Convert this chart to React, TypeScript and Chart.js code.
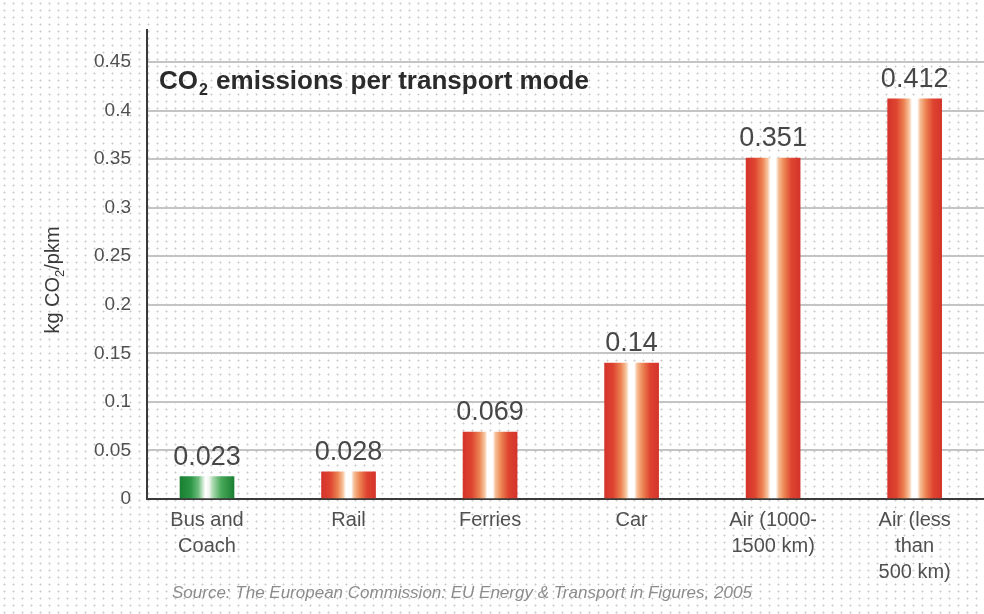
import React, { useEffect, useRef } from "react";
import { Chart, registerables } from "chart.js";

Chart.register(...registerables);

const categories: string[][] = [
  ["Bus and", "Coach"],
  ["Rail"],
  ["Ferries"],
  ["Car"],
  ["Air (1000-", "1500 km)"],
  ["Air (less", "than", "500 km)"],
];
const values: number[] = [0.023, 0.028, 0.069, 0.14, 0.351, 0.412];
const yTickValues: number[] = [0, 0.05, 0.1, 0.15, 0.2, 0.25, 0.3, 0.35, 0.4, 0.45];
const yTickLabels: string[] = ["0", "0.05", "0.1", "0.15", "0.2", "0.25", "0.3", "0.35", "0.4", "0.45"];
const sourceText = "Source: The European Commission: EU Energy & Transport in Figures, 2005";

const FONT = "'Liberation Sans', Arial, Helvetica, sans-serif";

const redStops: [number, string][] = [
  [0, "#d4342b"], [0.16, "#de4430"], [0.3, "#ec8252"], [0.4, "#f7c6a0"],
  [0.45, "#ffffff"], [0.55, "#ffffff"], [0.6, "#f6bf98"], [0.7, "#ed8755"],
  [0.84, "#de4430"], [1, "#d4342b"],
];
const greenStops: [number, string][] = [
  [0, "#1a7f32"], [0.2, "#2a9645"], [0.34, "#6cbc7b"], [0.43, "#d3ecd6"],
  [0.47, "#ffffff"], [0.54, "#f0f6f0"], [0.6, "#b0dcb5"], [0.76, "#4aa95a"],
  [1, "#1a7f32"],
];

const BAR_W = 54;

function barFill(ctx: any) {
  const chart = ctx.chart;
  const i = ctx.dataIndex;
  if (i === undefined || !chart.chartArea || !chart.scales.x) return "#d4342b";
  const cx = chart.scales.x.getPixelForValue(i);
  const g = chart.ctx.createLinearGradient(cx - BAR_W / 2, 0, cx + BAR_W / 2, 0);
  const stops = i === 0 ? greenStops : redStops;
  stops.forEach(([o, c]) => g.addColorStop(o, c));
  return g;
}

const annotations = {
  id: "annotations",
  afterDatasetsDraw(chart: any) {
    const { ctx, chartArea } = chart;
    const meta = chart.getDatasetMeta(0);
    ctx.save();
    // value labels
    ctx.fillStyle = "#474747";
    ctx.font = `27px ${FONT}`;
    ctx.textAlign = "center";
    ctx.textBaseline = "alphabetic";
    meta.data.forEach((el: any, i: number) => {
      ctx.fillText(String(values[i]), el.x, el.y - 12);
    });

    // chart title with subscript
    ctx.fillStyle = "#2b2b2b";
    ctx.textAlign = "left";
    let x = chartArea.left + 12;
    const y = 89;
    ctx.font = `bold 26px ${FONT}`;
    ctx.fillText("CO", x, y);
    x += ctx.measureText("CO").width;
    ctx.font = `bold 16px ${FONT}`;
    ctx.fillText("2", x + 1, y + 6);
    x += ctx.measureText("2").width + 2;
    ctx.font = `bold 26px ${FONT}`;
    ctx.fillText(" emissions per transport mode", x, y);

    // y axis title, rotated
    ctx.save();
    ctx.translate(59, 280);
    ctx.rotate(-Math.PI / 2);
    ctx.fillStyle = "#3a3a3a";
    const p1 = "kg CO", p2 = "2", p3 = "/pkm";
    ctx.font = `20px ${FONT}`;
    const w1 = ctx.measureText(p1).width;
    const w3 = ctx.measureText(p3).width;
    ctx.font = `13px ${FONT}`;
    const w2 = ctx.measureText(p2).width;
    let tx = -(w1 + w2 + w3) / 2;
    ctx.font = `20px ${FONT}`;
    ctx.fillText(p1, tx, 0);
    tx += w1;
    ctx.font = `13px ${FONT}`;
    ctx.fillText(p2, tx, 5);
    tx += w2;
    ctx.font = `20px ${FONT}`;
    ctx.fillText(p3, tx, 0);
    ctx.restore();

    // source
    ctx.fillStyle = "#8c8c8c";
    ctx.font = `italic 17px ${FONT}`;
    ctx.textAlign = "left";
    ctx.fillText(sourceText, 172, 598);
    ctx.restore();
  },
};

export default function App() {
  const ref = useRef<HTMLCanvasElement | null>(null);

  useEffect(() => {
    if (!ref.current) return;
    const chart = new Chart(ref.current, {
      type: "bar",
      data: {
        datasets: [
          {
            data: values.map((v, i) => ({ x: i, y: v })),
            backgroundColor: barFill as any,
            borderWidth: 0,
            barThickness: BAR_W,
          },
        ],
      },
      options: {
        animation: false,
        responsive: false,
        maintainAspectRatio: false,
        layout: { padding: { top: 30, left: 0, right: 0, bottom: 0 } },
        plugins: {
          legend: { display: false },
          tooltip: { enabled: false },
          title: { display: false },
        },
        scales: {
          x: {
            type: "linear",
            offset: false,
            min: -0.424,
            max: 5.49,
            grid: { display: false, drawTicks: false, offset: false },
            border: { display: true, color: "#3a3a3a", width: 2 },
            afterBuildTicks: (scale: any) => {
              scale.ticks = categories.map((_, i) => ({ value: i }));
            },
            afterFit: (scale: any) => {
              scale.height = 115;
            },
            ticks: {
              autoSkip: false,
              maxRotation: 0,
              minRotation: 0,
              padding: 9,
              color: "#505050",
              font: { family: FONT, size: 20, lineHeight: 1.28 },
              callback: (v: any) => {
                const i = Math.round(Number(v));
                return categories[i] ?? "";
              },
            },
          },
          y: {
            min: 0,
            max: 0.483,
            afterBuildTicks: (scale: any) => {
              scale.ticks = yTickValues.map((v) => ({ value: v }));
            },
            afterFit: (scale: any) => {
              scale.width = 147;
            },
            grid: { color: "#c4c4c4", lineWidth: 2, drawTicks: false },
            border: { display: true, color: "#3a3a3a", width: 2 },
            ticks: {
              padding: 16,
              color: "#505050",
              font: { family: FONT, size: 19 },
              callback: (v: any) => {
                const idx = yTickValues.findIndex((t) => Math.abs(t - Number(v)) < 1e-9);
                return idx >= 0 ? yTickLabels[idx] : "";
              },
            },
          },
        },
      },
      plugins: [annotations],
    });
    return () => chart.destroy();
  }, []);

  return (
    <div
      style={{
        position: "absolute",
        left: 0,
        top: 0,
        width: 984,
        height: 614,
        background: "#ffffff",
        backgroundImage: "radial-gradient(circle, #c9c9c9 0.8px, transparent 1.2px)",
        backgroundSize: "9px 7px",
      }}
    >
      <canvas ref={ref} width={984} height={614} style={{ display: "block" }} />
    </div>
  );
}
